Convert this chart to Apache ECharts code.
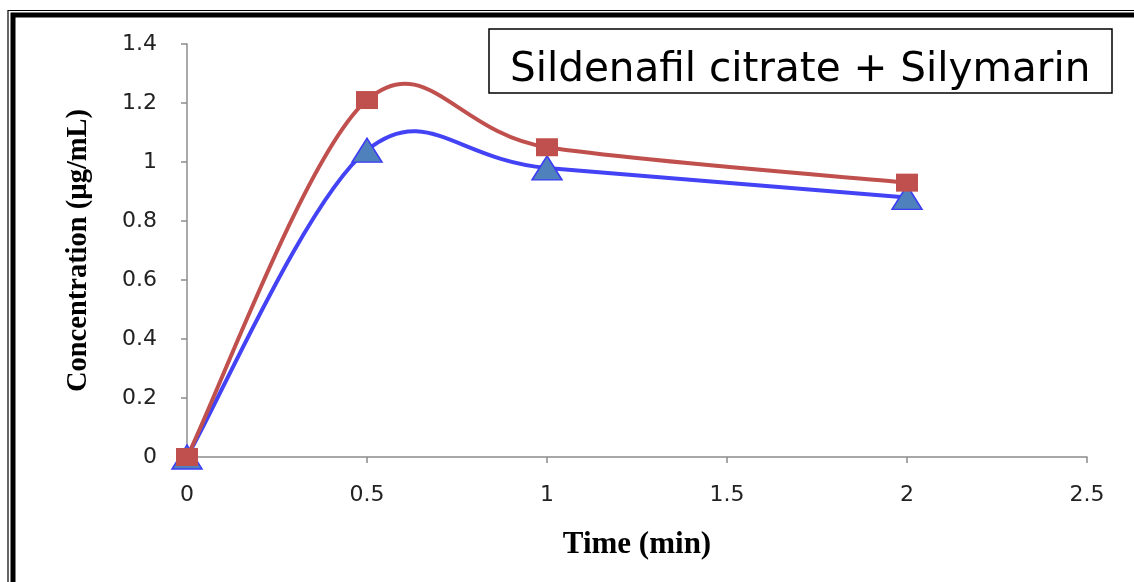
<!DOCTYPE html>
<html>
<head>
<meta charset="utf-8">
<script src="https://cdn.jsdelivr.net/npm/echarts@6/dist/echarts.min.js"></script>
<style>html,body{margin:0;padding:0;background:#fff}#c{width:1134px;height:582px}</style>
</head>
<body>
<div id="c"></div>
<script>
const times = [0, 0.5, 1, 2];
const blueValues = [0, 1.04, 0.98, 0.88];
const redValues = [0, 1.21, 1.05, 0.93];
const titleText = 'Sildenafil citrate + Silymarin';
const xName = 'Time (min)';
const yName = 'Concentration (µg/mL)';

const chart = echarts.init(document.getElementById('c'));
const pairs = (v) => times.map((t, i) => [t, v[i]]);

// Smoothed curve (Catmull-Rom style, like spreadsheet "smoothed line"), drawn through the axes via api.coord
function curveSeries(values, color, z) {
  const pts = pairs(values);
  return {
    type: 'custom', z: z, silent: true,
    data: pts.slice(0, pts.length - 1).map((p, i) => [p[0], p[1], i]),
    encode: { x: 0, y: 1 },
    renderItem: function (params, api) {
      const i = params.dataIndex;
      const p0 = pts[Math.max(i - 1, 0)];
      const p1 = pts[i];
      const p2 = pts[i + 1];
      const p3 = pts[Math.min(i + 2, pts.length - 1)];
      const c1 = [p1[0] + (p2[0] - p0[0]) / 6, p1[1] + (p2[1] - p0[1]) / 6];
      const c2 = [p2[0] - (p3[0] - p1[0]) / 6, p2[1] - (p3[1] - p1[1]) / 6];
      const a = api.coord(p1), b = api.coord(p2), ca = api.coord(c1), cb = api.coord(c2);
      return {
        type: 'bezierCurve',
        shape: { x1: a[0], y1: a[1], x2: b[0], y2: b[1], cpx1: ca[0], cpy1: ca[1], cpx2: cb[0], cpy2: cb[1] },
        style: { stroke: color, lineWidth: 4, fill: null, lineCap: 'round' }
      };
    }
  };
}

chart.setOption({
  animation: false,
  backgroundColor: '#fff',
  grid: { left: 187, right: 47, top: 44, bottom: 125 },
  xAxis: {
    type: 'value', min: 0, max: 2.5, interval: 0.5,
    splitLine: { show: false },
    axisLine: { lineStyle: { color: '#8c8c8c', width: 1.5 } },
    axisTick: { show: true, length: 6, lineStyle: { color: '#8c8c8c', width: 1.5 } },
    axisLabel: { color: '#222', fontFamily: 'DejaVu Sans', fontSize: 22, margin: 27 },
    name: xName, nameLocation: 'middle', nameGap: 72,
    nameTextStyle: { fontFamily: 'Liberation Serif', fontWeight: 'bold', fontSize: 31, color: '#000' }
  },
  yAxis: {
    type: 'value', min: 0, max: 1.4, interval: 0.2,
    splitLine: { show: false },
    axisLine: { show: true, lineStyle: { color: '#8c8c8c', width: 1.5 } },
    axisTick: { show: true, length: 6, lineStyle: { color: '#8c8c8c', width: 1.5 } },
    axisLabel: { color: '#222', fontFamily: 'DejaVu Sans', fontSize: 22, margin: 30 },
    name: yName, nameLocation: 'middle', nameGap: 94,
    nameTextStyle: { fontFamily: 'Liberation Serif', fontWeight: 'bold', fontSize: 28.5, color: '#000' }
  },
  series: [
    curveSeries(blueValues, '#4343F5', 2),
    curveSeries(redValues, '#C0504D', 3),
    {
      type: 'scatter', data: pairs(blueValues),
      symbol: 'triangle', symbolSize: [30, 24],
      itemStyle: { color: '#4F81BD', borderColor: '#3C3CF5', borderWidth: 1.5, opacity: 1 },
      z: 4
    },
    {
      type: 'scatter', data: pairs(redValues),
      symbol: 'rect', symbolSize: [22, 18],
      itemStyle: { color: '#C0504D', borderWidth: 0, opacity: 1 },
      z: 5
    }
  ],
  graphic: [
    { type: 'rect', shape: { x: 8, y: 10.5, width: 1200, height: 700 }, style: { fill: null, stroke: '#000', lineWidth: 1.2 }, silent: true },
    { type: 'rect', shape: { x: 13, y: 15, width: 1200, height: 700 }, style: { fill: null, stroke: '#000', lineWidth: 5 }, silent: true },
    { type: 'rect', shape: { x: 489, y: 29, width: 623, height: 64 }, style: { fill: '#fff', stroke: '#000', lineWidth: 1.5 }, z: 10 },
    { type: 'text', x: 510, y: 70, z: 11,
      style: { text: titleText, fontFamily: 'DejaVu Sans', fontSize: 40.5, fill: '#000', verticalAlign: 'middle', align: 'left' } }
  ]
});
</script>
</body>
</html>
